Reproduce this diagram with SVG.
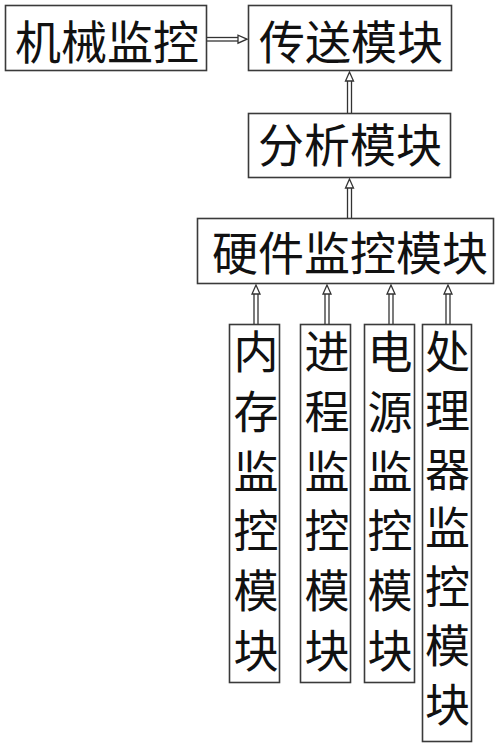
<svg xmlns="http://www.w3.org/2000/svg" width="500" height="753" viewBox="0 0 500 753">
<style>
.box{fill:#fff;stroke:#3a3a3a;stroke-width:1.6}
.t{font-family:"Noto Sans CJK SC","Noto Sans CJK JP",sans-serif;font-size:45px;fill:#111;text-anchor:middle}
.sh{stroke:#333;stroke-width:1.3;fill:none}
.hd{fill:#fff;stroke:#333;stroke-width:1.3;stroke-linejoin:miter}
</style>
<rect width="500" height="753" fill="#fff"/>
<g id="connectors">
<g id="c-jixie-chuansong">
<line class="sh" x1="207" y1="37.5" x2="239" y2="37.5"/>
<line class="sh" x1="207" y1="41" x2="239" y2="41"/>
<polygon class="hd" points="247,39.2 238,35.2 238,43.2"/>
</g>
<g id="c-fenxi-chuansong">
<line class="sh" x1="347.5" y1="113" x2="347.5" y2="80"/>
<line class="sh" x1="351.5" y1="113" x2="351.5" y2="80"/>
<polygon class="hd" points="349.5,72 345.5,81 353.5,81"/>
</g>
<g id="c-yingjian-fenxi">
<line class="sh" x1="347.5" y1="218" x2="347.5" y2="187"/>
<line class="sh" x1="351.5" y1="218" x2="351.5" y2="187"/>
<polygon class="hd" points="349.5,179 345.5,188 353.5,188"/>
</g>
<g id="c-neicun">
<line class="sh" x1="254" y1="324" x2="254" y2="293"/>
<line class="sh" x1="258" y1="324" x2="258" y2="293"/>
<polygon class="hd" points="256,285 252,294 260,294"/>
</g>
<g id="c-jincheng">
<line class="sh" x1="325" y1="324" x2="325" y2="293"/>
<line class="sh" x1="329" y1="324" x2="329" y2="293"/>
<polygon class="hd" points="327,285 323,294 331,294"/>
</g>
<g id="c-dianyuan">
<line class="sh" x1="389" y1="324" x2="389" y2="293"/>
<line class="sh" x1="393" y1="324" x2="393" y2="293"/>
<polygon class="hd" points="391,285 387,294 395,294"/>
</g>
<g id="c-chuliqi">
<line class="sh" x1="446" y1="324" x2="446" y2="293"/>
<line class="sh" x1="450" y1="324" x2="450" y2="293"/>
<polygon class="hd" points="448,285 444,294 452,294"/>
</g>
</g>
<g id="jixie">
<rect class="box" x="5.5" y="5.5" width="201" height="65"/>
<text class="t" x="107" y="58.5" style="font-size:46px">机械监控</text>
</g>
<g id="chuansong">
<rect class="box" x="248.5" y="5.5" width="203" height="65"/>
<text class="t" x="351" y="58.5" style="font-size:46px">传送模块</text>
</g>
<g id="fenxi">
<rect class="box" x="248.5" y="113.5" width="202" height="64"/>
<text class="t" x="350" y="161.5" style="font-size:46px">分析模块</text>
</g>
<g id="yingjian">
<rect class="box" x="197.5" y="218.5" width="296" height="65"/>
<text class="t" x="350" y="270" style="font-size:46px">硬件监控模块</text>
</g>
<g id="neicun">
<rect class="box" x="229.5" y="324.5" width="50" height="358"/>
<text class="t" x="256 256 256 256 256 256" y="369 428.8 488.6 548.4 608.2 668">内存监控模块</text>
</g>
<g id="jincheng">
<rect class="box" x="300.5" y="324.5" width="50" height="358"/>
<text class="t" x="327 327 327 327 327 327" y="369 428.8 488.6 548.4 608.2 668">进程监控模块</text>
</g>
<g id="dianyuan">
<rect class="box" x="364.5" y="324.5" width="50" height="358"/>
<text class="t" x="390 390 390 390 390 390" y="369 428.8 488.6 548.4 608.2 668">电源监控模块</text>
</g>
<g id="chuliqi">
<rect class="box" x="422.5" y="324.5" width="49" height="417"/>
<text class="t" x="447.5 447.5 447.5 447.5 447.5 447.5 447.5" y="369 427.8 486.6 545.4 604.2 663 721.8">处理器监控模块</text>
</g>
</svg>
